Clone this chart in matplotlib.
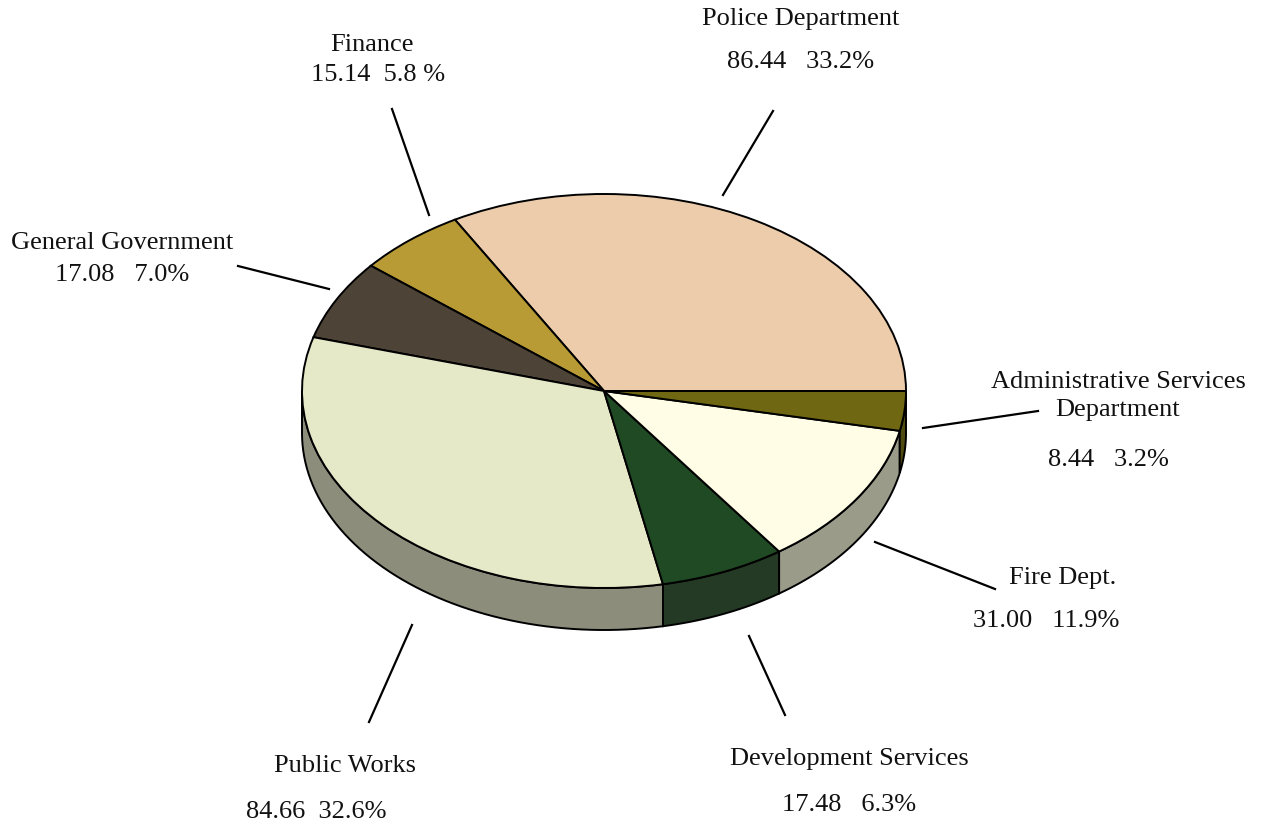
import numpy as np
import matplotlib
matplotlib.use("Agg")
import matplotlib.pyplot as plt
from matplotlib.patches import Wedge, Polygon
from matplotlib.transforms import Affine2D

# departments, counter-clockwise from 3 o'clock
depts = ['Police Department', 'Finance', 'General Government', 'Public Works',
         'Development Services', 'Fire Dept.', 'Administrative Services\nDepartment']
amounts = [86.44, 15.14, 17.08, 84.66, 17.48, 31.00, 8.44]
pct_text = ['86.44   33.2%', '15.14  5.8 %', '17.08   7.0%', '84.66  32.6%',
            '17.48   6.3%', '31.00   11.9%', '8.44   3.2%']

top_colors = ['#ecccab', '#b89b35', '#4e4337', '#e6e9c8', '#1f4a23', '#fffde6', '#6f6712']
side_colors = ['#b09878', '#8a7526', '#3a3229', '#8d8d7c', '#243a25', '#9b9b8a', '#4f4a10']

W, H = 1262, 829
fig = plt.figure(figsize=(W / 100, H / 100), dpi=100)
ax = fig.add_axes([0, 0, 1, 1])
ax.set_xlim(0, W)
ax.set_ylim(H, 0)
ax.axis('off')

# pie geometry (pixels)
cx, cy = 604, 392
rx, ry = 302, 197
depth = 42

# ellipse transform: unit circle -> squashed pie, y flipped for pixel axes
tr = Affine2D().scale(rx, -ry).translate(cx, cy) + ax.transData

fracs = np.array(amounts) / np.sum(amounts)
edges = np.concatenate([[0], np.cumsum(fracs) * 360])

# side walls (only the front half, 180..360 deg)
for i in range(len(amounts)):
    a0, a1 = max(edges[i], 180), min(edges[i + 1], 360)
    if a1 <= a0:
        continue
    t = np.radians(np.linspace(a0, a1, 60))
    xs = np.cos(t)
    ys = np.sin(t)
    top = np.column_stack([xs, ys])
    pts = np.vstack([top, top[::-1]])
    # shift lower edge down by depth (in unit ellipse coords)
    pts[len(top):, 1] -= depth / ry
    ax.add_patch(Polygon(pts, closed=True, transform=tr, facecolor=side_colors[i],
                         edgecolor='black', lw=1.4, zorder=1))

# top face
for i in range(len(amounts)):
    ax.add_patch(Wedge((0, 0), 1, edges[i], edges[i + 1], transform=tr,
                       facecolor=top_colors[i], edgecolor='black', lw=1.4, zorder=2))

# labels and leader lines
font = dict(family='Liberation Serif', fontsize=19, color='#111111')

label_pos = [(801, 19), (372, 45), (122, 243), (345, 766), (849, 759), (1063, 578), (1118, 396)]
num_pos = [(801, 62), (378, 75), (122, 275), (316, 812), (849, 805), (1046, 621), (1108, 460)]
leaders = [((773, 112), (723, 196)), ((392, 110), (429, 216)), ((238, 267), (329, 290)),
           ((412, 626), (369, 723)), ((749, 637), (785, 716)), ((875, 543), (995, 590)),
           ((923, 429), (1038, 412))]

for i, name in enumerate(depts):
    ax.text(*label_pos[i], name, ha='center', va='center', linespacing=1.3, **font)
    ax.text(*num_pos[i], pct_text[i], ha='center', va='center', **font)
    (x0, y0), (x1, y1) = leaders[i]
    ax.plot([x0, x1], [y0, y1], color='black', lw=1.6)

fig.savefig('out.png', dpi=100)
